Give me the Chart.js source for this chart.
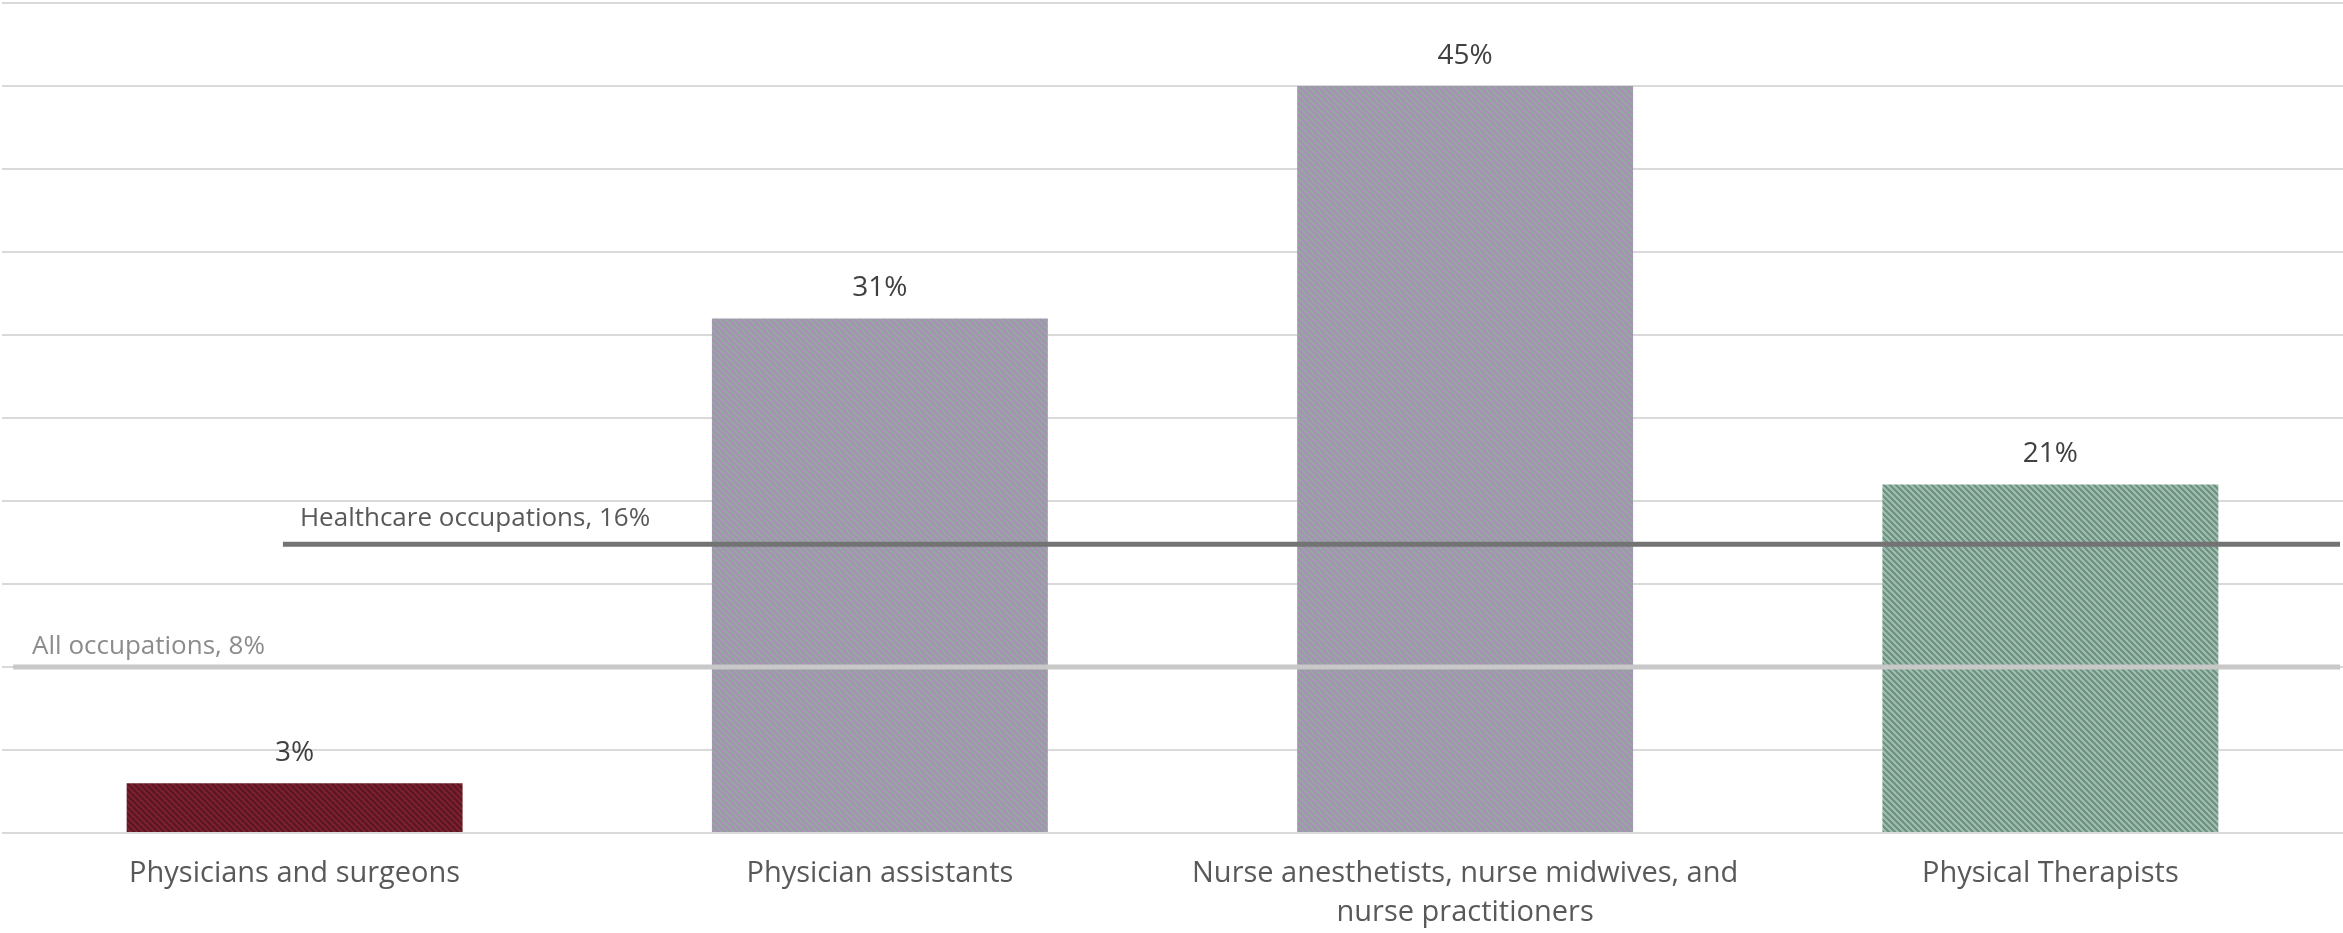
<!DOCTYPE html>
<html>
<head>
<meta charset="utf-8">
<script src="https://cdn.jsdelivr.net/npm/chart.js@4.4.1/dist/chart.umd.min.js"></script>
<style>
  html, body { margin: 0; padding: 0; background: #ffffff; }
  #wrap { width: 2343px; height: 933px; position: relative; }
</style>
</head>
<body>
<div id="wrap"><canvas id="c" width="2343" height="933"></canvas></div>
<script>
// ---- data ----
const categories = [
  "Physicians and surgeons",
  "Physician assistants",
  ["Nurse anesthetists, nurse midwives, and", "nurse practitioners"],
  "Physical Therapists"
];
const shareValues = [3, 31, 45, 21];
const valueLabels = ["3%", "31%", "45%", "21%"];

// reference lines (level as drawn, horizontal extent in category units)
const healthcareLevel = 17.4;
const healthcareSpan = [0.48, 3.995];
const healthcareLabel = "Healthcare occupations, 16%";
const allOccLevel = 10;
const allOccSpan = [0.019, 3.995];
const allOccLabel = "All occupations, 8%";

const yTicks = [0, 50, 5]; // min, max, step

// ---- hatch patterns ----
function makeHatch(c1, c2) {
  const t = document.createElement('canvas');
  t.width = 6; t.height = 6;
  const g = t.getContext('2d');
  for (let x = 0; x < 6; x++) {
    for (let y = 0; y < 6; y++) {
      g.fillStyle = (((x - y + 6) % 6) < 3) ? c1 : c2;
      g.fillRect(x, y, 1, 1);
    }
  }
  return document.getElementById('c').getContext('2d').createPattern(t, 'repeat');
}

const FONT = '"Open Sans", "Noto Sans", sans-serif';

const valueLabelPlugin = {
  id: 'valueLabels',
  afterDatasetsDraw(chart) {
    const ctx = chart.ctx;
    const meta = chart.getDatasetMeta(0);
    ctx.save();
    ctx.font = '28px ' + FONT;
    ctx.fillStyle = '#404040';
    ctx.textAlign = 'center';
    ctx.textBaseline = 'middle';
    meta.data.forEach((bar, i) => {
      ctx.fillText(valueLabels[i], bar.x, bar.y - 30);
    });
    ctx.restore();
  }
};

const lineLabelPlugin = {
  id: 'lineLabels',
  afterDatasetsDraw(chart) {
    const ctx = chart.ctx;
    const specs = [
      { ds: 1, text: healthcareLabel, color: '#595959', dx: 17, dy: -18 },
      { ds: 2, text: allOccLabel, color: '#8c8c8c', dx: 19, dy: -13 }
    ];
    ctx.save();
    ctx.font = '26px ' + FONT;
    ctx.textAlign = 'left';
    ctx.textBaseline = 'alphabetic';
    specs.forEach(s => {
      const p = chart.getDatasetMeta(s.ds).data[0];
      ctx.fillStyle = s.color;
      ctx.fillText(s.text, p.x + s.dx, p.y + s.dy);
    });
    ctx.restore();
  }
};

function build() {
  const barColors = [
    makeHatch('#7d1f2e', '#5a1823'),
    makeHatch('#a98fb8', '#94a89f'),
    makeHatch('#a98fb8', '#94a89f'),
    makeHatch('#6c9383', '#a0bcad')
  ];

  new Chart(document.getElementById('c'), {
    type: 'bar',
    data: {
      labels: categories,
      datasets: [
        {
          type: 'bar',
          data: shareValues,
          backgroundColor: barColors,
          borderWidth: 0,
          grouped: false,
          categoryPercentage: 1,
          barPercentage: 0.574,
          order: 2
        },
        {
          type: 'line',
          xAxisID: 'x2',
          data: [{ x: healthcareSpan[0], y: healthcareLevel }, { x: healthcareSpan[1], y: healthcareLevel }],
          borderColor: '#737373',
          borderWidth: 5,
          pointRadius: 0,
          fill: false,
          order: 0
        },
        {
          type: 'line',
          xAxisID: 'x2',
          data: [{ x: allOccSpan[0], y: allOccLevel }, { x: allOccSpan[1], y: allOccLevel }],
          borderColor: '#c8c8c8',
          borderWidth: 5,
          pointRadius: 0,
          fill: false,
          order: 1
        }
      ]
    },
    options: {
      responsive: false,
      animation: false,
      layout: { padding: { left: 2, right: 0, top: 3, bottom: 0 } },
      plugins: { legend: { display: false }, tooltip: { enabled: false } },
      scales: {
        x: {
          type: 'category',
          position: 'bottom',
          grid: { display: false, drawTicks: false },
          border: { display: false },
          ticks: {
            color: '#595959',
            font: { family: FONT, size: 29, lineHeight: 1.35 },
            padding: 21,
            maxRotation: 0,
            minRotation: 0,
            autoSkip: false
          },
          afterFit(scale) { scale.height = 100; }
        },
        x2: {
          type: 'linear',
          display: false,
          offset: false,
          min: 0,
          max: 4,
          position: 'bottom'
        },
        y: {
          min: yTicks[0],
          max: yTicks[1],
          ticks: { stepSize: yTicks[2], display: false },
          grid: { color: '#d9d9d9', lineWidth: 2, drawTicks: false },
          border: { display: false },
          afterFit(scale) { scale.width = 0; }
        }
      }
    },
    plugins: [valueLabelPlugin, lineLabelPlugin]
  });
}

(document.fonts && document.fonts.load ? Promise.all([
  document.fonts.load('29px "Open Sans"'),
  document.fonts.load('26px "Open Sans"')
]).catch(() => {}) : Promise.resolve()).then(build);
</script>
</body>
</html>
